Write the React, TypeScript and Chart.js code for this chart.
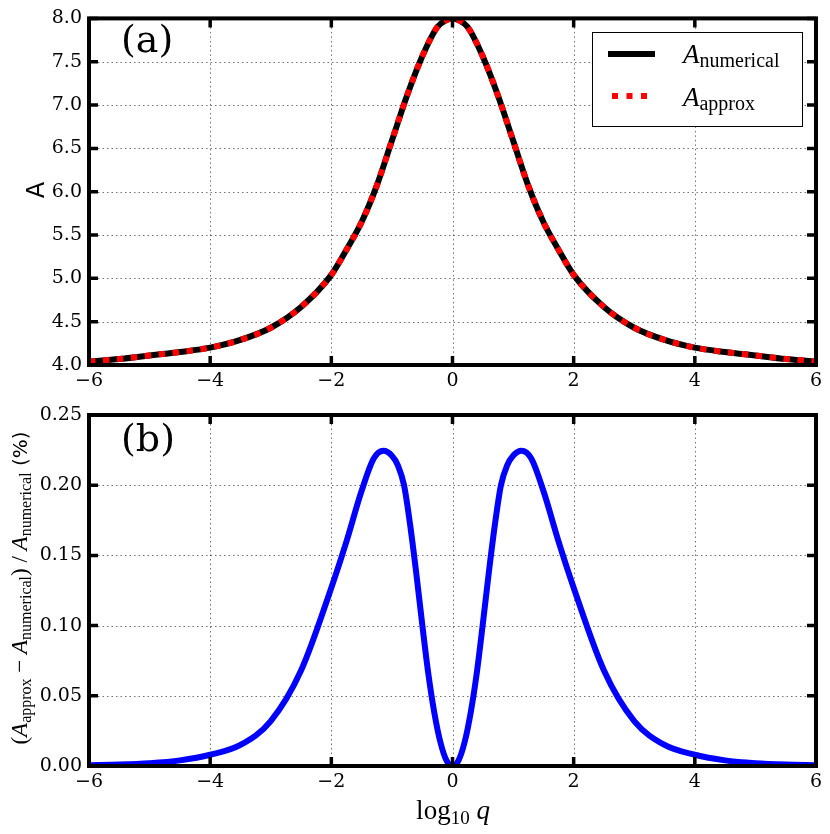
import React, { useEffect, useRef } from "react";
import { Chart, registerables } from "chart.js";

Chart.register(...registerables);

// panel (a): A vs log10 q
const logQ = [-6, -5.5, -5, -4.5, -4, -3.5, -3, -2.5, -2, -1.75, -1.5, -1.25, -1, -0.75, -0.5, -0.25, -0.1, 0,
  0.1, 0.25, 0.5, 0.75, 1, 1.25, 1.5, 1.75, 2, 2.5, 3, 3.5, 4, 4.5, 5, 5.5, 6];
const aNumerical = [4.04, 4.07, 4.11, 4.15, 4.2, 4.29, 4.43, 4.67, 5.04, 5.33, 5.65, 6.07, 6.59, 7.11, 7.56, 7.9, 7.98, 8.0,
  7.98, 7.9, 7.56, 7.11, 6.59, 6.07, 5.65, 5.33, 5.04, 4.67, 4.43, 4.29, 4.2, 4.15, 4.11, 4.07, 4.04];
const aApprox = [4.04, 4.07, 4.11, 4.15, 4.2, 4.29, 4.43, 4.67, 5.04, 5.33, 5.65, 6.07, 6.59, 7.11, 7.56, 7.9, 7.98, 8.0,
  7.98, 7.9, 7.56, 7.11, 6.59, 6.07, 5.65, 5.33, 5.04, 4.67, 4.43, 4.29, 4.2, 4.15, 4.11, 4.07, 4.04];

// panel (b): relative error in %
const logQErr = [-6, -5.5, -5, -4.5, -4, -3.5, -3, -2.5, -2, -1.75, -1.5, -1.3, -1.14, -1, -0.9, -0.8, -0.7, -0.6, -0.5,
  -0.4, -0.3, -0.2, -0.1, 0, 0.1, 0.2, 0.3, 0.4, 0.5, 0.6, 0.7, 0.8, 0.9, 1, 1.14, 1.3, 1.5, 1.75, 2, 2.5, 3, 3.5, 4,
  4.5, 5, 5.5, 6];
const relError = [0.0005, 0.001, 0.002, 0.004, 0.008, 0.015, 0.032, 0.068, 0.127, 0.16, 0.196, 0.219, 0.2245, 0.221,
  0.214, 0.2, 0.172, 0.138, 0.101, 0.066, 0.038, 0.017, 0.004, 0, 0.004, 0.017, 0.038, 0.066, 0.101, 0.138, 0.172, 0.2,
  0.214, 0.221, 0.2245, 0.219, 0.196, 0.16, 0.127, 0.068, 0.032, 0.015, 0.008, 0.004, 0.002, 0.001, 0.0005];

const xTicks = [-6, -4, -2, 0, 2, 4, 6];
const aTicks = [4.0, 4.5, 5.0, 5.5, 6.0, 6.5, 7.0, 7.5, 8.0];
const errTicks = [0, 0.05, 0.1, 0.15, 0.2, 0.25];

const TICK_FONT = { family: "DejaVu Serif", size: 19 };
const MATH = "Liberation Serif";

type Run = { text: string; font: string; dy?: number };

function drawRuns(ctx: CanvasRenderingContext2D, runs: Run[], x: number, y: number, align: "left" | "center") {
  let total = 0;
  for (const r of runs) {
    ctx.font = r.font;
    total += ctx.measureText(r.text).width;
  }
  let cx = align === "center" ? x - total / 2 : x;
  ctx.textAlign = "left";
  ctx.textBaseline = "alphabetic";
  for (const r of runs) {
    ctx.font = r.font;
    ctx.fillText(r.text, cx, y + (r.dy || 0));
    cx += ctx.measureText(r.text).width;
  }
}

const minus = (v: number | string) => String(v).replace("-", "\u2212");

// dotted grid, thick frame and inward ticks like the matplotlib classic style
const framePlugin = {
  id: "frame",
  beforeDatasetsDraw(chart: any) {
    const { ctx, chartArea: a, scales } = chart;
    ctx.save();
    ctx.strokeStyle = "rgba(0,0,0,0.55)";
    ctx.lineWidth = 1;
    ctx.setLineDash([1.5, 3]);
    for (const t of scales.x.ticks) {
      const px = Math.round(scales.x.getPixelForValue(t.value)) + 0.5;
      ctx.beginPath();
      ctx.moveTo(px, a.top);
      ctx.lineTo(px, a.bottom);
      ctx.stroke();
    }
    for (const t of scales.y.ticks) {
      const py = Math.round(scales.y.getPixelForValue(t.value)) + 0.5;
      ctx.beginPath();
      ctx.moveTo(a.left, py);
      ctx.lineTo(a.right, py);
      ctx.stroke();
    }
    ctx.restore();
  },
  afterDatasetsDraw(chart: any) {
    const { ctx, chartArea: a, scales } = chart;
    ctx.save();
    ctx.strokeStyle = "#000";
    ctx.lineWidth = 3.5;
    const len = 9;
    for (const t of scales.x.ticks) {
      const px = scales.x.getPixelForValue(t.value);
      ctx.beginPath();
      ctx.moveTo(px, a.bottom);
      ctx.lineTo(px, a.bottom - len);
      ctx.moveTo(px, a.top);
      ctx.lineTo(px, a.top + len);
      ctx.stroke();
    }
    for (const t of scales.y.ticks) {
      const py = scales.y.getPixelForValue(t.value);
      ctx.beginPath();
      ctx.moveTo(a.left, py);
      ctx.lineTo(a.left + len, py);
      ctx.moveTo(a.right, py);
      ctx.lineTo(a.right - len, py);
      ctx.stroke();
    }
    ctx.lineWidth = 4;
    ctx.strokeRect(a.left, a.top, a.right - a.left, a.bottom - a.top);
    ctx.restore();
  },
};

const topLabels = {
  id: "topLabels",
  afterDraw(chart: any) {
    const ctx: CanvasRenderingContext2D = chart.ctx;
    ctx.save();
    ctx.fillStyle = "#000";
    ctx.font = "38px 'DejaVu Serif'";
    ctx.textAlign = "left";
    ctx.textBaseline = "alphabetic";
    ctx.fillText("(a)", 121, 52);

    // y label
    ctx.save();
    ctx.translate(35, 190);
    ctx.rotate(-Math.PI / 2);
    ctx.font = "24px 'DejaVu Sans'";
    ctx.textAlign = "center";
    ctx.fillText("A", 0, 9);
    ctx.restore();

    // legend
    ctx.fillStyle = "#fff";
    ctx.fillRect(592, 32, 210, 94);
    ctx.strokeStyle = "#000";
    ctx.lineWidth = 1;
    ctx.strokeRect(592.5, 32.5, 210, 94);
    ctx.lineWidth = 6;
    ctx.beginPath();
    ctx.moveTo(608, 54);
    ctx.lineTo(655, 54);
    ctx.stroke();
    ctx.strokeStyle = "#ff0000";
    ctx.setLineDash([6, 8.5]);
    ctx.beginPath();
    ctx.moveTo(612, 96);
    ctx.lineTo(650, 96);
    ctx.stroke();
    ctx.setLineDash([]);
    ctx.fillStyle = "#000";
    drawRuns(ctx, [
      { text: "A", font: `italic 27px '${MATH}'` },
      { text: "numerical", font: `20px '${MATH}'`, dy: 4 },
    ], 683, 63, "left");
    drawRuns(ctx, [
      { text: "A", font: `italic 27px '${MATH}'` },
      { text: "approx", font: `20px '${MATH}'`, dy: 4 },
    ], 683, 106, "left");
    ctx.restore();
  },
};

const bottomLabels = {
  id: "bottomLabels",
  afterDraw(chart: any) {
    const ctx: CanvasRenderingContext2D = chart.ctx;
    ctx.save();
    ctx.fillStyle = "#000";
    ctx.font = "38px 'DejaVu Serif'";
    ctx.textAlign = "left";
    ctx.textBaseline = "alphabetic";
    ctx.fillText("(b)", 121, 61);

    const main = `23px '${MATH}'`;
    const ital = `italic 23px '${MATH}'`;
    const sub = `16px '${MATH}'`;
    ctx.save();
    ctx.translate(19, 198);
    ctx.rotate(-Math.PI / 2);
    drawRuns(ctx, [
      { text: "(", font: main },
      { text: "A", font: ital },
      { text: "approx", font: sub, dy: 4 },
      { text: " \u2212 ", font: main },
      { text: "A", font: ital },
      { text: "numerical", font: sub, dy: 4 },
      { text: ")", font: main },
      { text: " / ", font: main },
      { text: "A", font: ital },
      { text: "numerical", font: sub, dy: 4 },
      { text: " (%)", font: "20px 'DejaVu Sans'" },
    ], 0, 8, "center");
    ctx.restore();

    drawRuns(ctx, [
      { text: "log", font: `27px '${MATH}'` },
      { text: "10", font: `19px '${MATH}'`, dy: 5 },
      { text: " ", font: `27px '${MATH}'` },
      { text: "q", font: `italic 27px '${MATH}'` },
    ], 453, 429, "center");
    ctx.restore();
  },
};

function makeConfig(
  datasets: any[],
  yTicks: number[],
  yDigits: number,
  padTop: number,
  xHeight: number,
  extra: any
): any {
  return {
    type: "line",
    data: { datasets },
    options: {
      animation: false,
      responsive: false,
      maintainAspectRatio: false,
      layout: { padding: { top: padTop, right: 14, left: 0, bottom: 0 } },
      plugins: { legend: { display: false }, tooltip: { enabled: false } },
      scales: {
        x: {
          type: "linear",
          min: -6,
          max: 6,
          afterBuildTicks: (s: any) => {
            s.ticks = xTicks.map((v) => ({ value: v }));
          },
          afterFit: (s: any) => {
            s.height = xHeight;
          },
          grid: { display: false, drawTicks: false },
          border: { display: false },
          ticks: { font: TICK_FONT, color: "#000", padding: 5, maxRotation: 0, callback: (v: number) => minus(v) },
        },
        y: {
          type: "linear",
          min: yTicks[0],
          max: yTicks[yTicks.length - 1],
          afterBuildTicks: (s: any) => {
            s.ticks = yTicks.map((v) => ({ value: v }));
          },
          afterFit: (s: any) => {
            s.width = 89;
          },
          grid: { display: false, drawTicks: false },
          border: { display: false },
          ticks: { font: TICK_FONT, color: "#000", padding: 7, callback: (v: number) => Number(v).toFixed(yDigits) },
        },
      },
    },
    plugins: [framePlugin, extra],
  };
}

export default function App() {
  const topRef = useRef<HTMLCanvasElement | null>(null);
  const bottomRef = useRef<HTMLCanvasElement | null>(null);

  useEffect(() => {
    const charts: Chart[] = [];
    if (topRef.current) {
      const datasets = [
        {
          label: "A numerical",
          data: logQ.map((x, i) => ({ x, y: aNumerical[i] })),
          borderColor: "#000",
          borderWidth: 6,
          pointRadius: 0,
          order: 2,
          cubicInterpolationMode: "monotone",
        },
        {
          label: "A approx",
          data: logQ.map((x, i) => ({ x, y: aApprox[i] })),
          borderColor: "#ff0000",
          borderWidth: 6,
          borderDash: [6.5, 7.5],
          borderCapStyle: "butt",
          pointRadius: 0,
          order: 1,
          cubicInterpolationMode: "monotone",
        },
      ];
      charts.push(new Chart(topRef.current, makeConfig(datasets, aTicks, 1, 16, 25, topLabels)));
    }
    if (bottomRef.current) {
      const datasets = [
        {
          label: "relative error",
          data: logQErr.map((x, i) => ({ x, y: relError[i] })),
          borderColor: "#0000ff",
          borderWidth: 6,
          pointRadius: 0,
          cubicInterpolationMode: "monotone",
        },
      ];
      charts.push(new Chart(bottomRef.current, makeConfig(datasets, errTicks, 2, 25, 68, bottomLabels)));
    }
    return () => {
      charts.forEach((c) => c.destroy());
    };
  }, []);

  return (
    <div style={{ position: "absolute", left: 0, top: 0, width: 830, height: 834, background: "#fff" }}>
      <canvas ref={topRef} width={830} height={390} style={{ position: "absolute", left: 0, top: 0 }} />
      <canvas ref={bottomRef} width={830} height={444} style={{ position: "absolute", left: 0, top: 390 }} />
    </div>
  );
}
